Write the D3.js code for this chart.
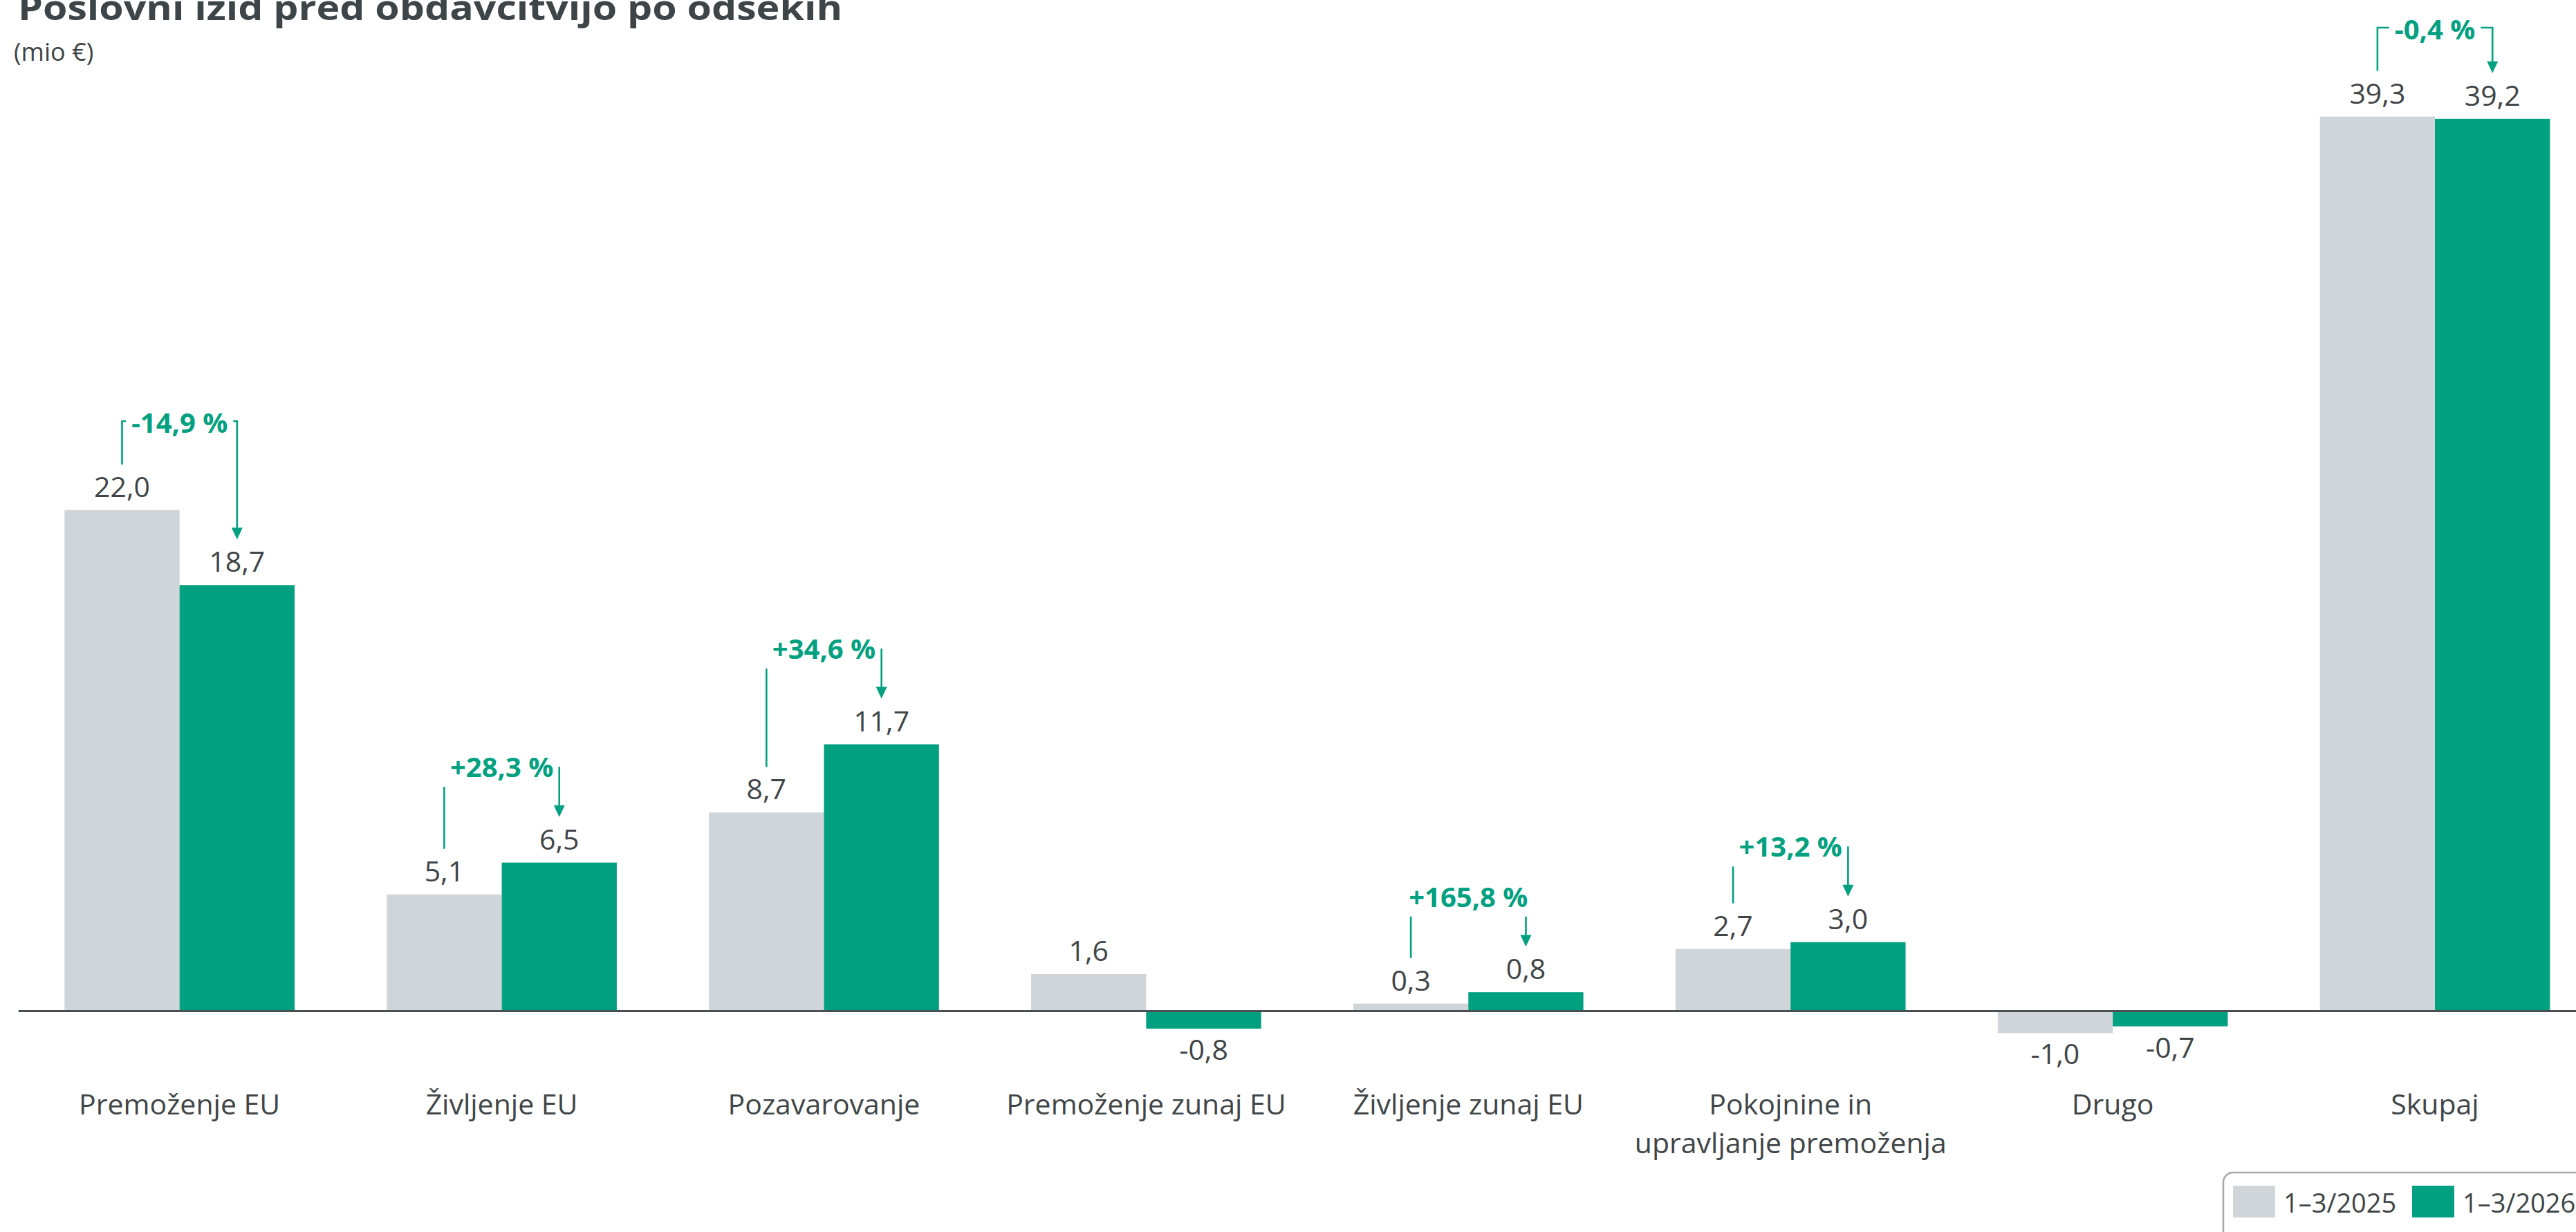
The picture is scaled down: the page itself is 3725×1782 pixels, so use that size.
<!DOCTYPE html>
<html>
<head>
<meta charset="utf-8">
<script src="https://cdn.jsdelivr.net/npm/d3@7"></script>
<style>
  body { margin: 0; background: #fff; }
  text { font-family: "Open Sans", sans-serif; }
</style>
</head>
<body>
<div id="chart"></div>
<script>
const W = 3725, H = 1782;
const GRAY = "#d0d5d9", GREEN = "#00a080", TXT = "#404547";

// data
const categories = ["Premoženje EU", "Življenje EU", "Pozavarovanje", "Premoženje zunaj EU",
  "Življenje zunaj EU", "Pokojnine in\nupravljanje premoženja", "Drugo", "Skupaj"];
const series = ["1–3/2025", "1–3/2026"];
const values2025 = [22.0, 5.1, 8.7, 1.6, 0.3, 2.7, -1.0, 39.3];
const values2026 = [18.7, 6.5, 11.7, -0.8, 0.8, 3.0, -0.7, 39.2];
const changeLabels = ["-14,9 %", "+28,3 %", "+34,6 %", null, "+165,8 %", "+13,2 %", null, "-0,4 %"];

const fmt = v => v.toFixed(1).replace(".", ",");

const svg = d3.select("#chart").append("svg")
    .attr("width", W)
    .attr("height", H);

// scales
let x = d3.scaleBand()
    .domain(categories)
    .range([26.7, 3754])
    .paddingInner(0.286)
    .paddingOuter(0.143);

let xs = d3.scaleBand()
    .domain(series)
    .range([0, x.bandwidth()]);

let y = d3.scaleLinear()
    .domain([0, 40])
    .range([1461.5, 1461.5 - 40 * 32.9]);

let color = d3.scaleOrdinal().domain(series).range([GRAY, GREEN]);

// title (top is cut by the frame, as in the source)
svg.append("text")
    .attr("x", 26).attr("y", 29)
    .attr("font-size", "50px").attr("font-weight", 700)
    .attr("fill", "#3e4549")
    .attr("textLength", 1192).attr("lengthAdjust", "spacingAndGlyphs")
    .text("Poslovni izid pred obdavčitvijo po odsekih");

svg.append("text")
    .attr("x", 20).attr("y", 88)
    .attr("font-size", "36px")
    .attr("fill", TXT)
    .text("(mio €)");

const rows = categories.map((c, i) => ({cat: c, vals: [values2025[i], values2026[i]], change: changeLabels[i]}));

// bars
const groups = svg.selectAll("g.grp").data(rows).join("g")
    .attr("class", "grp")
    .attr("transform", d => `translate(${x(d.cat)},0)`);

groups.selectAll("rect").data(d => d.vals.map((v, k) => ({s: series[k], v}))).join("rect")
    .attr("x", d => xs(d.s))
    .attr("y", d => y(Math.max(0, d.v)))
    .attr("width", xs.bandwidth())
    .attr("height", d => Math.abs(y(d.v) - y(0)))
    .attr("fill", d => color(d.s));

groups.selectAll("text.val").data(d => d.vals.map((v, k) => ({s: series[k], v}))).join("text")
    .attr("class", "val")
    .attr("x", d => xs(d.s) + xs.bandwidth() / 2)
    .attr("y", d => d.v >= 0 ? y(d.v) - 19 : y(d.v) + 45)
    .attr("text-anchor", "middle")
    .attr("font-size", "41px")
    .attr("fill", TXT)
    .text(d => fmt(d.v));

// baseline
svg.append("line")
    .attr("x1", x.range()[0]).attr("x2", x.range()[1])
    .attr("y1", y(0) + 1).attr("y2", y(0) + 1)
    .attr("stroke", "#4a4f52").attr("stroke-width", 3);

// category labels
groups.append("text")
    .attr("x", x.bandwidth() / 2)
    .attr("y", 1612)
    .attr("text-anchor", "middle")
    .attr("font-size", "41px")
    .attr("fill", TXT)
    .selectAll("tspan").data(d => d.cat.split("\n")).join("tspan")
    .attr("x", x.bandwidth() / 2)
    .attr("dy", (d, i) => i ? 56 : 0)
    .text(d => d);

// change annotations
rows.forEach(d => {
    if (!d.change) return;
    const g = svg.append("g").attr("transform", `translate(${x(d.cat)},0)`);
    const [a, b] = d.vals;
    const xa = xs(series[0]) + xs.bandwidth() / 2;
    const xb = xs(series[1]) + xs.bandwidth() / 2;
    const ya = y(a), yb = y(b);
    const cx = x.bandwidth() / 2;
    const up = b >= a;
    const base = up ? yb - 123.5 : ya - 112;

    const t = g.append("text")
        .attr("x", cx).attr("y", base)
        .attr("text-anchor", "middle")
        .attr("font-size", "40px").attr("font-weight", 700)
        .attr("fill", GREEN)
        .text(d.change);
    const tw = t.node().getComputedTextLength();
    const tl = cx - tw / 2, tr = cx + tw / 2;

    const tip = yb - 66;
    let leftPath, rightTop, rightPath;
    if (up) {
        leftPath = `M${xa},${ya - 66}V${base + 14}`;
        rightTop = tr > xb - 6 ? base + 14 : base - 15;
        rightPath = `M${xb},${rightTop}V${tip - 14}`;
    } else {
        const by = base - 16.5;
        leftPath = `M${xa},${ya - 66}V${by}H${tl - 8}`;
        rightPath = `M${tr + 8},${by}H${xb}V${tip - 14}`;
    }
    g.append("path").attr("d", leftPath)
        .attr("fill", "none").attr("stroke", GREEN).attr("stroke-width", 2.6);
    g.append("path").attr("d", rightPath)
        .attr("fill", "none").attr("stroke", GREEN).attr("stroke-width", 2.6);
    g.append("path")
        .attr("d", `M${xb - 8},${tip - 17}L${xb + 8},${tip - 17}L${xb},${tip}Z`)
        .attr("fill", GREEN);
});

// legend
const legend = svg.append("g");
legend.append("rect")
    .attr("x", 3215).attr("y", 1696)
    .attr("width", 620).attr("height", 160)
    .attr("rx", 14)
    .attr("fill", "none").attr("stroke", "#a0a8ad").attr("stroke-width", 2.5);

const items = legend.selectAll("g.item").data(series).join("g")
    .attr("class", "item")
    .attr("transform", (d, i) => `translate(${3229 + i * 259},1715)`);
items.append("rect")
    .attr("width", 61).attr("height", 46)
    .attr("fill", d => color(d));
items.append("text")
    .attr("x", 73).attr("y", 39)
    .attr("font-size", "38px")
    .attr("fill", TXT)
    .text(d => d);
</script>
</body>
</html>
